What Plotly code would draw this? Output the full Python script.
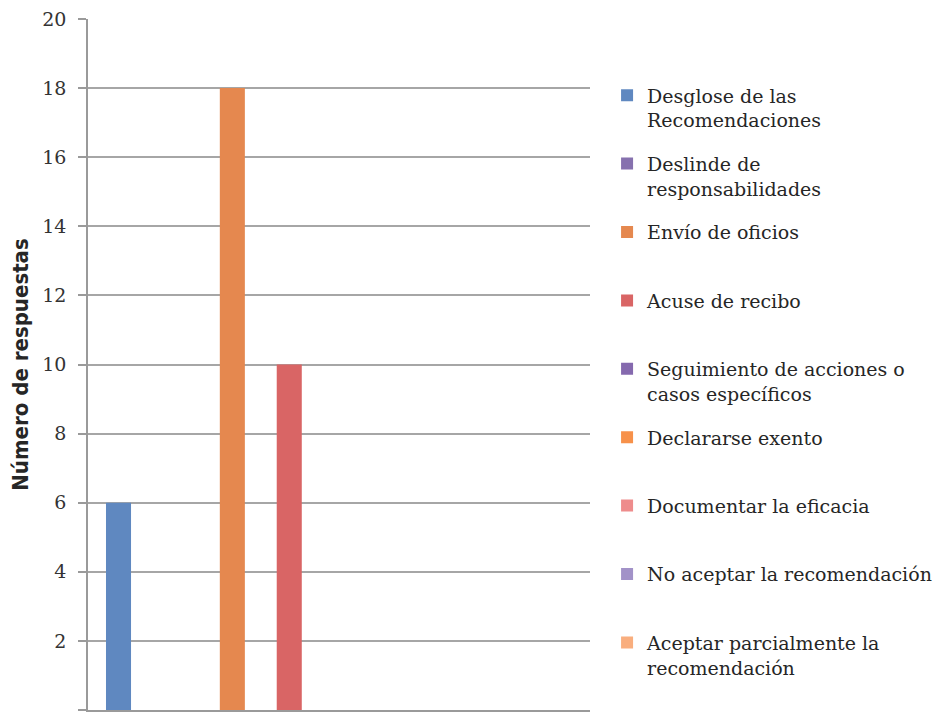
import plotly.graph_objects as go

series_names = [
    "Desglose de las<br>Recomendaciones",
    "Deslinde de<br>responsabilidades",
    "Envío de oficios<br> ",
    "Acuse de recibo<br> ",
    "Seguimiento de acciones o<br>casos específicos",
    "Declararse exento<br> ",
    "Documentar la eficacia<br> ",
    "No aceptar la recomendación<br> ",
    "Aceptar parcialmente la<br>recomendación",
]
series_values = [6, 0, 18, 10, 0, 0, 0, 0, 0]
category = [""]
series_colors = [
    "#5F88C0", "#8671AE", "#E5884F", "#D96565", "#8569AE",
    "#F7914A", "#EE8C8C", "#A292C8", "#F9AE7E",
]
y_ticks = list(range(0, 21, 2))

fig = go.Figure()
for i, (name, val, col) in enumerate(zip(series_names, series_values, series_colors)):
    fig.add_trace(go.Bar(
        x=category, y=[val], name=name,
        marker=dict(color=col, line=dict(width=0)),
        legendgroup=f"g{i}",
    ))

fig.update_layout(
    width=939, height=716,
    margin=dict(l=88, r=349, t=19, b=6, autoexpand=False),
    paper_bgcolor="white", plot_bgcolor="white",
    barmode="group", bargap=0.0, bargroupgap=0.56,
    showlegend=True,
    legend=dict(
        x=1.034, xanchor="left", y=0.917, yanchor="top",
        font=dict(family="DejaVu Serif, serif", size=19, color="#262626"),
        valign="top", tracegroupgap=16, itemwidth=30,
        bgcolor="rgba(0,0,0,0)",
    ),
    xaxis=dict(
        range=[-0.504, 0.476], showticklabels=False, showgrid=False,
        showline=True, linecolor="#9A9A9A", linewidth=1.5, ticks="",
        zeroline=False, automargin=False,
    ),
    yaxis=dict(
        range=[0, 20], tickvals=y_ticks, showgrid=True,
        gridcolor="#A6A6A6", gridwidth=1.5,
        showline=True, linecolor="#9A9A9A", linewidth=1.5,
        ticks="outside", ticklen=8, tickcolor="#9A9A9A", tickwidth=1.5,
        ticklabelstandoff=8,
        tickfont=dict(family="DejaVu Serif, serif", size=19, color="#333333"),
        zeroline=False, automargin=False,
        title=dict(
            text="<b>Número de respuestas</b>",
            font=dict(family="Liberation Sans Narrow, DejaVu Sans Condensed, Liberation Sans, sans-serif",
                      size=22, color="#262626"),
            standoff=8,
        ),
    ),
)

fig.write_html("out.html", config={"displayModeBar": False},
               post_script="document.body.style.margin='0';")
